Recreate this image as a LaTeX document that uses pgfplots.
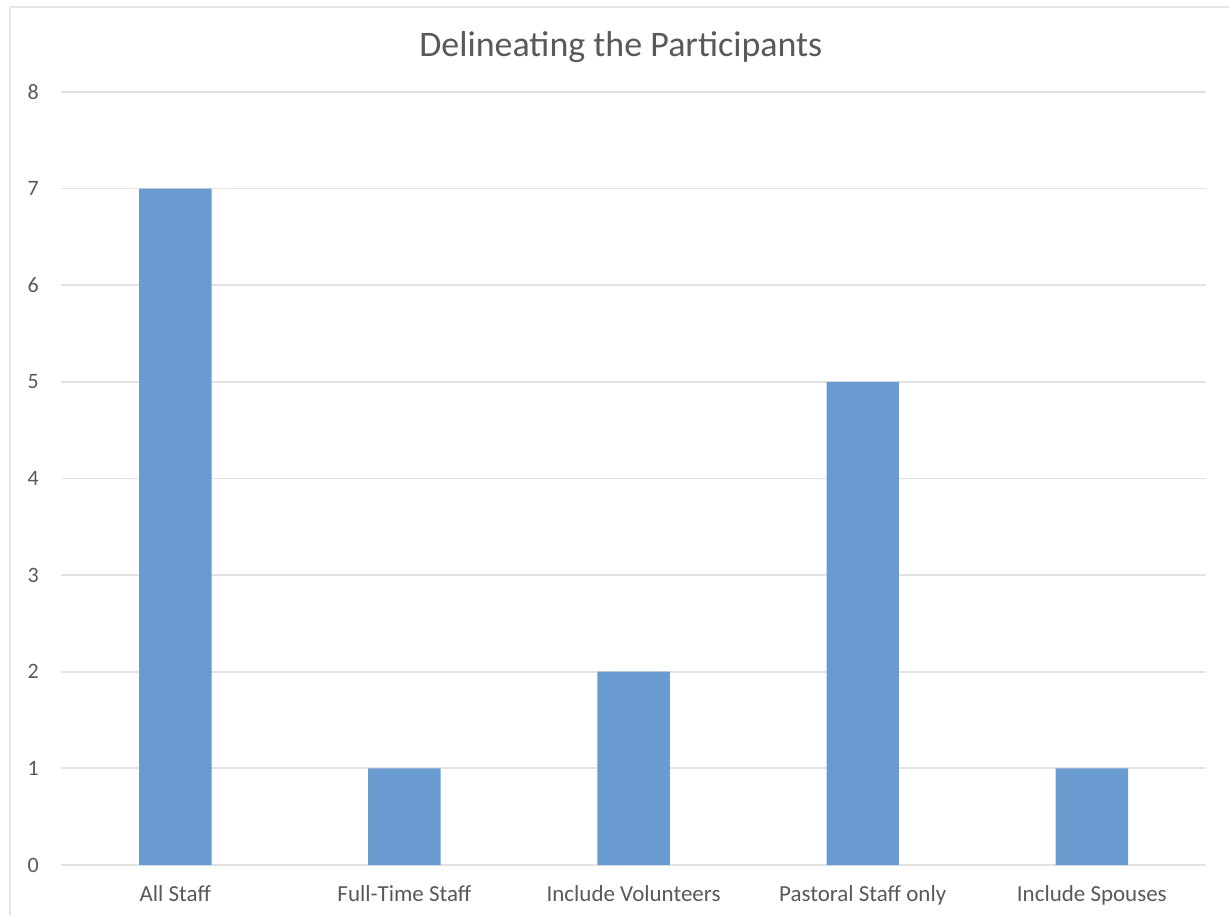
\documentclass[border=0pt]{standalone}
\usepackage{pgfplots}
\pgfplotsset{compat=1.18}
\usepackage{fontspec}
\setmainfont{Carlito}

\definecolor{barblue}{HTML}{6A9BD0}
\definecolor{gridgray}{HTML}{E2E2E2}
\definecolor{textgray}{HTML}{595959}
\definecolor{framegray}{HTML}{E6E6E6}

\begin{document}
\begin{tikzpicture}[x=1pt,y=1pt]
  % page extent
  \path (0,0) rectangle (615,458);
  % chart area border (left and top edges)
  \draw[framegray, line width=1.4pt] (5,0) -- (5,454.5) -- (615,454.5);

  \node[text=textgray, font=\fontsize{18}{21}\selectfont] at (310.75,434.5) {Delineating the Participants};

  \begin{axis}[
    at={(30.4pt,25pt)}, anchor=south west,
    scale only axis,
    width=573.5pt, height=387pt,
    xmin=-0.5, xmax=4.5,
    ymin=0, ymax=8,
    ytick={0,1,...,8},
    xtick=data,
    xticklabels={All Staff, Full-Time Staff, Include Volunteers, Pastoral Staff only, Include Spouses},
    axis line style={draw=none},
    major tick length=0pt,
    ymajorgrids,
    grid style={gridgray, line width=0.9pt},
    /pgf/number format/assume math mode=true,
    yticklabel style={text=textgray, font=\fontsize{11}{13}\selectfont, xshift=-7.5pt},
    xticklabel style={text=textgray, font=\fontsize{11.5}{13}\selectfont, yshift=-6.5pt},
    clip=false,
  ]
    \addplot[ybar, bar width=36.25pt, fill=barblue, draw=none]
      coordinates {(0,7) (1,1) (2,2) (3,5) (4,1)};
  \end{axis}
\end{tikzpicture}
\end{document}
